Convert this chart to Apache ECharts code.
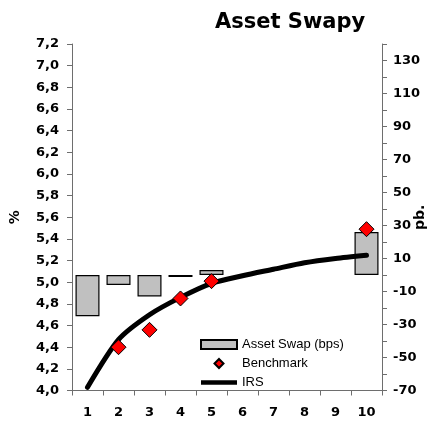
<!DOCTYPE html>
<html>
<head>
<meta charset="utf-8">
<script src="https://cdn.jsdelivr.net/npm/echarts@6/dist/echarts.min.js"></script>
<style>
  html, body { margin: 0; padding: 0; background: #fff; }
  #chart { width: 443px; height: 424px; }
</style>
</head>
<body>
<div id="chart"></div>
<script>
const categories = ['1', '2', '3', '4', '5', '6', '7', '8', '9', '10'];
const assetSwap = [-25, -6, -13, -1.2, 3, null, null, null, null, 26];
const benchmark = [null, 4.40, 4.56, 4.85, 5.01, null, null, null, null, 5.49];
const irs = [4.03, 4.47, 4.70, 4.86, 4.99, 5.06, 5.12, 5.18, 5.22, 5.25];

const axisFont = { fontFamily: 'DejaVu Sans', fontWeight: 'bold', fontSize: 13, color: '#000' };
const axisLineStyle = { color: '#6e6e6e', width: 1 };

const chart = echarts.init(document.getElementById('chart'), null, { renderer: 'canvas' });
chart.setOption({
  backgroundColor: '#fff',
  animation: false,
  title: {
    text: 'Asset Swapy',
    left: 210,
    top: 7,
    textStyle: { fontFamily: 'DejaVu Sans', fontWeight: 'bold', fontSize: 21, color: '#000' }
  },
  grid: { left: 72, right: 61, top: 44, bottom: 33.5, containLabel: false, outerBoundsMode: 'none' },
  legend: {
    orient: 'vertical',
    left: 195,
    top: 333,
    itemWidth: 36,
    itemHeight: 9,
    itemGap: 6,
    symbolKeepAspect: true,
    textStyle: { fontFamily: 'Liberation Sans', fontSize: 13, color: '#000' },
    data: [
      { name: 'Asset Swap (bps)', icon: 'rect' },
      { name: 'Benchmark', icon: 'path://M5,0 L10,5 L5,10 L0,5 Z' },
      { name: 'IRS', icon: 'path://M0,0 L72,0 L72,9 L0,9 Z' }
    ]
  },
  xAxis: {
    type: 'category',
    data: categories,
    boundaryGap: true,
    axisLine: { onZero: false, lineStyle: axisLineStyle },
    axisTick: { show: true, length: 5, lineStyle: axisLineStyle },
    axisLabel: Object.assign({ margin: 16, interval: 0 }, axisFont),
    splitLine: { show: false }
  },
  yAxis: [
    {
      type: 'value',
      min: 4.0,
      max: 7.2,
      interval: 0.2,
      name: '%',
      nameLocation: 'middle',
      nameRotate: 90,
      nameGap: 50,
      nameMoveOverlap: false,
      nameTextStyle: { fontFamily: 'DejaVu Sans', fontWeight: 'bold', fontSize: 14, color: '#000' },
      axisLine: { show: true, lineStyle: axisLineStyle },
      axisTick: { show: true, length: 5, lineStyle: axisLineStyle },
      axisLabel: Object.assign({
        margin: 13,
        formatter: v => v.toFixed(1).replace('.', ',')
      }, axisFont),
      splitLine: { show: false }
    },
    {
      type: 'value',
      min: -70,
      max: 140,
      interval: 10,
      name: 'pb.',
      nameLocation: 'middle',
      nameRotate: 90,
      nameGap: 31,
      nameMoveOverlap: false,
      nameTextStyle: { fontFamily: 'DejaVu Sans', fontWeight: 'bold', fontSize: 14, color: '#000' },
      position: 'right',
      axisLine: { show: true, lineStyle: axisLineStyle },
      axisTick: { show: true, length: 5, lineStyle: axisLineStyle },
      axisLabel: Object.assign({
        margin: 11,
        formatter: v => (Math.round(v + 70) % 20 === 0 && v < 140) ? String(Math.round(v)) : ''
      }, axisFont),
      splitLine: { show: false }
    }
  ],
  series: [
    {
      name: 'Asset Swap (bps)',
      type: 'bar',
      yAxisIndex: 1,
      data: assetSwap,
      barWidth: 24,
      itemStyle: { color: '#c0c0c0', borderColor: '#000', borderWidth: 1.2 },
      z: 1
    },
    {
      name: 'IRS',
      type: 'line',
      yAxisIndex: 0,
      data: irs,
      smooth: 0.25,
      symbol: 'none',
      lineStyle: { color: '#000', width: 5, cap: 'round', join: 'round' },
      itemStyle: { color: '#000' },
      z: 2
    },
    {
      name: 'Benchmark',
      type: 'scatter',
      yAxisIndex: 0,
      data: benchmark,
      symbol: 'diamond',
      symbolSize: 15,
      itemStyle: { color: '#ff0000', opacity: 1, borderColor: '#000', borderWidth: 1 },
      z: 3
    }
  ]
});
</script>
</body>
</html>
